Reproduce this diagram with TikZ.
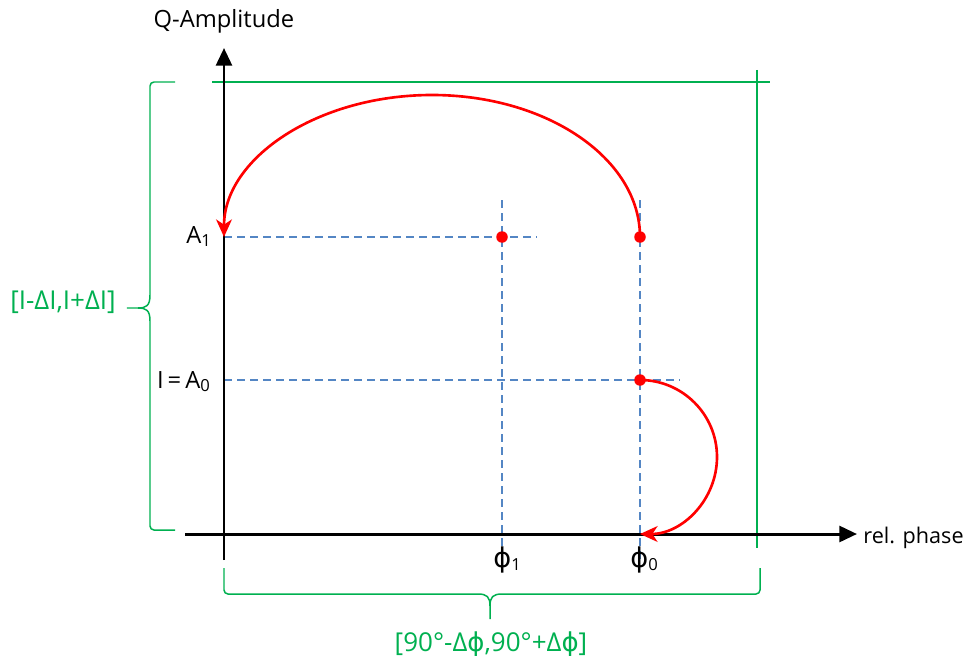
\documentclass[tikz,border=0pt]{standalone}
\usepackage{fontspec}
\setmainfont{Open Sans}
\newfontfamily\phifont{DejaVu Sans}
\usetikzlibrary{arrows.meta}
\definecolor{SpanGreen}{RGB}{0,176,80}
\definecolor{GuideBlue}{RGB}{84,134,196}
\newcommand{\phs}{{\phifont ϕ}}

\begin{document}
\begin{tikzpicture}[
    axis/.style={line width=1.7pt, -{Triangle[length=10pt,width=9pt]}},
    guide/.style={draw=GuideBlue, line width=1.4pt, dash pattern=on 4.6pt off 2.8pt},
    spanline/.style={draw=SpanGreen, line width=0.85pt},
    jump/.style={draw=red, line width=1.5pt, -{Stealth[length=10pt,width=9pt,inset=3pt]}},
    dot/.style={circle, fill=red, inner sep=0pt, minimum size=0.23cm},
    lbl/.style={font=\fontsize{13.5}{16}\selectfont, inner sep=0pt},
    glbl/.style={lbl, font=\fontsize{14.8}{18}\selectfont, text=SpanGreen}
]
    \useasboundingbox (-4.48,-2.42) rectangle (14.9,10.68);

    \coordinate (ybot)   at (0,-0.52);
    \coordinate (ytop)   at (0,9.72);
    \coordinate (xleft)  at (-0.78,0);
    \coordinate (xright) at (12.66,0);
    \coordinate (a1)     at (0,5.94);
    \coordinate (a0)     at (0,3.08);
    \coordinate (a1end)  at (6.26,5.94);
    \coordinate (a0end)  at (9.12,3.08);
    \coordinate (f1top)  at (5.56,6.68);
    \coordinate (f1bot)  at (5.56,-0.52);
    \coordinate (f0top)  at (8.32,6.68);
    \coordinate (f0bot)  at (8.32,-0.52);
    \coordinate (f0)     at (8.32,0);

    \draw[guide] (a1) -- (a1end);
    \draw[guide] (a0) -- (a0end);
    \draw[guide] (f1top) -- (f1bot);
    \draw[guide] (f0top) -- (f0bot);

    \draw[spanline] (-0.24,9.04) -- (10.92,9.04);
    \draw[spanline] (10.66,9.28) -- (10.66,-0.28);
    \draw[spanline] (-0.98,9.04) -- (-1.40,9.04) to[out=180,in=90] (-1.48,8.96) -- (-1.48,4.78)
        .. controls (-1.48,4.56) and (-1.56,4.52) .. (-1.72,4.52) -- (-1.94,4.52);
    \draw[spanline] (-1.72,4.52) .. controls (-1.56,4.52) and (-1.48,4.48) .. (-1.48,4.26)
        -- (-1.48,0.16) to[out=-90,in=180] (-1.40,0.08) -- (-0.98,0.08);
    \draw[spanline] (0,-0.68) -- (0,-1.12) to[out=-90,in=180] (0.08,-1.2) -- (5.08,-1.2)
        .. controls (5.26,-1.2) and (5.32,-1.26) .. (5.32,-1.44) -- (5.32,-1.7);
    \draw[spanline] (5.32,-1.44) .. controls (5.32,-1.26) and (5.38,-1.2) .. (5.56,-1.2)
        -- (10.64,-1.2) to[out=0,in=-90] (10.72,-1.12) -- (10.72,-0.68);

    \draw[axis] (ybot) -- (ytop);
    \draw[axis] (xleft) -- (xright);

    \node[dot] (p1) at (5.56,5.94) {};
    \node[dot] (p0) at (8.32,5.94) {};
    \node[dot] (q0) at (8.32,3.08) {};

    \draw[jump] (p0.center) arc[start angle=0, end angle=180, x radius=4.16, y radius=2.84];
    \draw[jump] (q0.center) arc[start angle=90, end angle=-90, radius=1.54];

    \node[lbl, anchor=base] (qamp) at (0,10.12) {Q-Amplitude};
    \node[lbl, font=\fontsize{12.3}{15}\selectfont, anchor=base east] (phase) at (14.8,-0.18) {rel. phase};
    \node[lbl, anchor=base east] (la1) at (-0.24,5.82) {A\textsubscript{1}};
    \node[lbl, anchor=base east] (la0) at (-0.26,2.92) {I\,=\,A\textsubscript{0}};
    \node[lbl, anchor=base west] (lf1) at (5.38,-0.66) {{\fontsize{15.5}{18}\selectfont\phs}\textsubscript{1}};
    \node[lbl, anchor=base west] (lf0) at (8.12,-0.66) {{\fontsize{15.5}{18}\selectfont\phs}\textsubscript{0}};
    \node[glbl, anchor=base] (spanA) at (-3.22,4.50) {[I-ΔI,I+ΔI]};
    \node[glbl, anchor=base] (spanF) at (5.34,-2.34) {[90°-Δ\phs,90°+Δ\phs]};
\end{tikzpicture}
\end{document}
